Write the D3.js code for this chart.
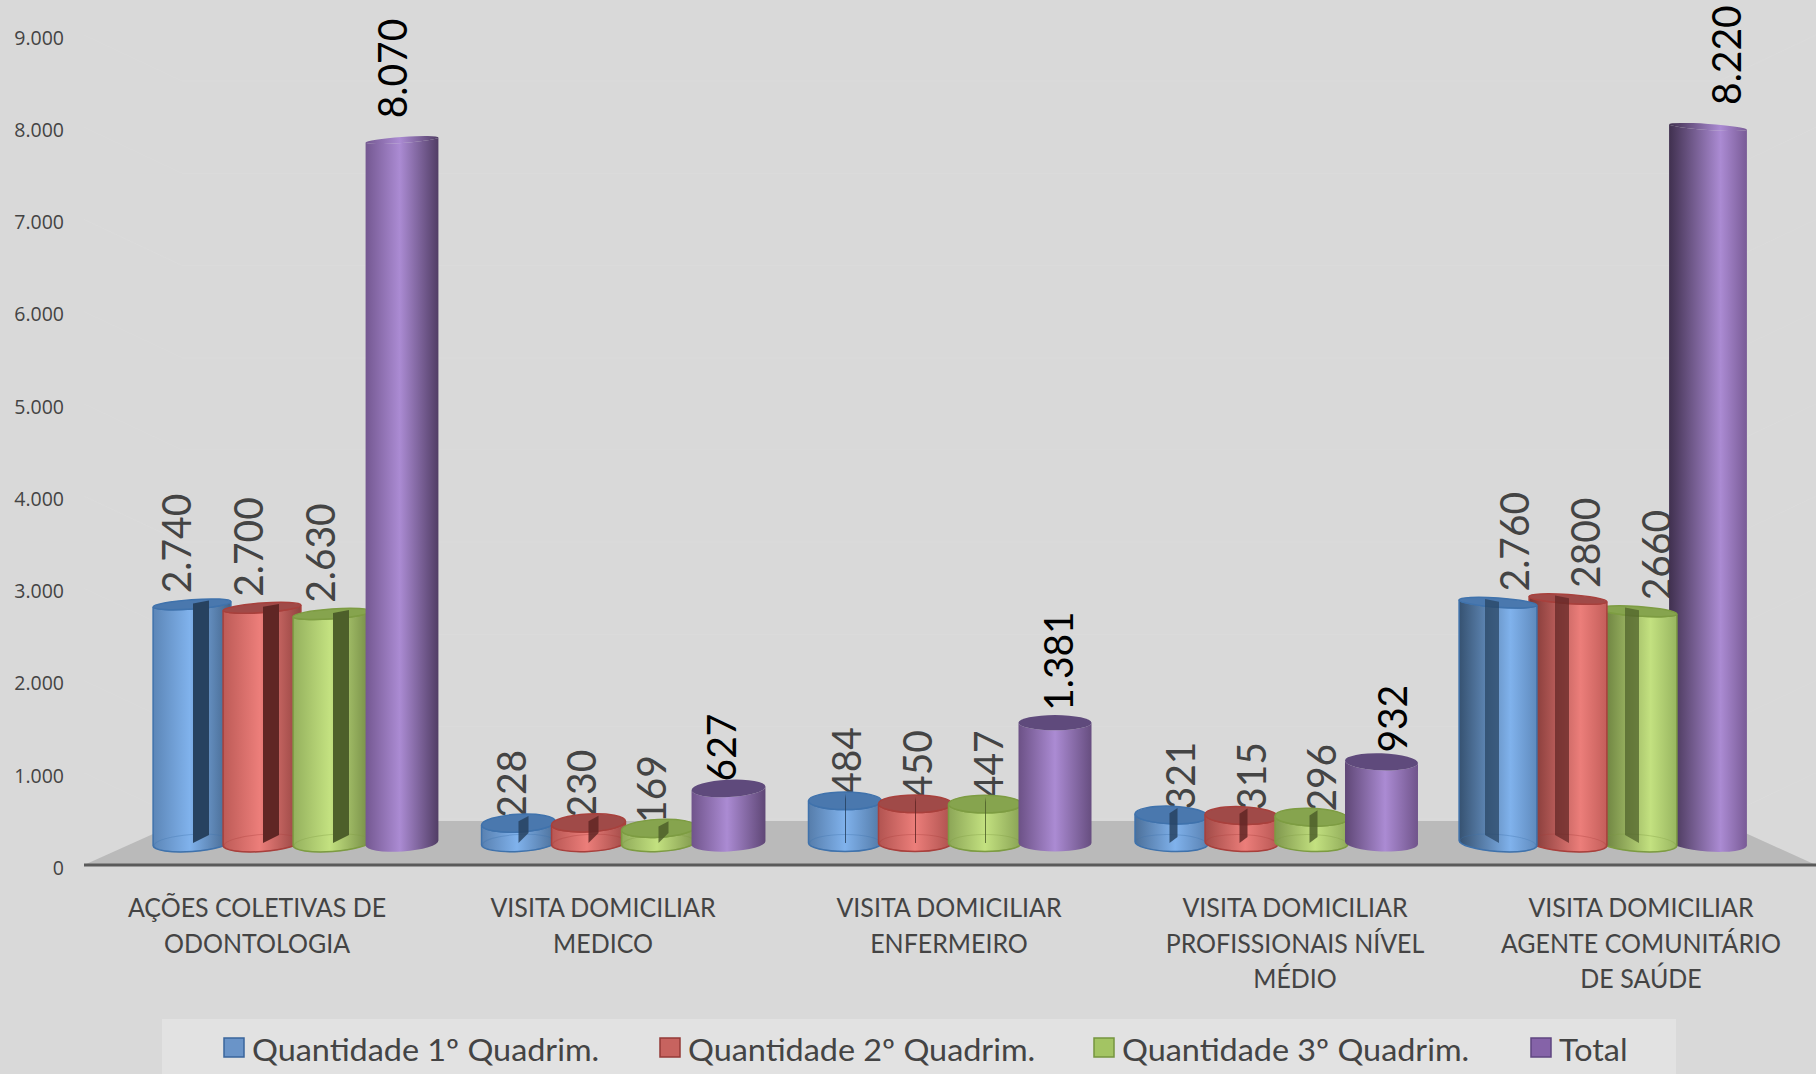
<!DOCTYPE html>
<html><head><meta charset="utf-8">
<script src="https://cdn.jsdelivr.net/npm/d3@7/dist/d3.min.js"></script>
<style>html,body{margin:0;padding:0;background:#d9d9d9;overflow:hidden}svg{display:block}</style>
</head><body><svg id="c" width="1816" height="1074"></svg>
<script>
const categories = [["AÇÕES COLETIVAS DE","ODONTOLOGIA"],["VISITA DOMICILIAR","MEDICO"],["VISITA DOMICILIAR","ENFERMEIRO"],["VISITA DOMICILIAR","PROFISSIONAIS NÍVEL","MÉDIO"],["VISITA DOMICILIAR","AGENTE COMUNITÁRIO","DE SAÚDE"]];
const seriesNames = ["Quantidade 1º Quadrim.","Quantidade 2º Quadrim.","Quantidade 3º Quadrim.","Total"];
const q1 = [2740,228,484,321,2760];
const q2 = [2700,230,450,315,2800];
const q3 = [2630,169,447,296,2660];
const total = [8070,627,1381,932,8220];
const q1Labels = ["2.740","228","484","321","2.760"];
const q2Labels = ["2.700","230","450","315","2800"];
const q3Labels = ["2.630","169","447","296","2660"];
const totalLabels = ["8.070","627","1.381","932","8.220"];
const tickValues = [0,1000,2000,3000,4000,5000,6000,7000,8000,9000];
const tickLabels = ["0","1.000","2.000","3.000","4.000","5.000","6.000","7.000","8.000","9.000"];

const values=[q1,q2,q3,total], labels=[q1Labels,q2Labels,q3Labels,totalLabels];
const palette=[
 {mid:"#6c9bd4",light:"#80b2ec",dark:"#2c4560",edge:"#3f72ac",top:"#4a78ae",strip:"#274260"},
 {mid:"#d96a66",light:"#ec7e7a",dark:"#6a2c2a",edge:"#a8403c",top:"#a04a48",strip:"#602624"},
 {mid:"#a9c86c",light:"#c3e180",dark:"#56682f",edge:"#7d9c42",top:"#86a44e",strip:"#4d5f2a"},
 {mid:"#8a68ac",light:"#ab8bd3",dark:"#33263f",edge:"#7a5a9c",top:"#5f4a7c",strip:"#5f4a7c"}];
const swatch=[["#6a94c8","#3a659c"],["#c7635f","#943a37"],["#a3c463","#76953f"],["#8563a8","#5f4680"]];

// perspective per group
const tilt=[-4,-3,0,2,4];
const leftDark=[.25,.3,.35,.5,.85], rightDark=[.65,.5,.4,.3,.2], peak=[.47,.48,.5,.55,.66];
const strips=[[1,17,8],[0,10,10],[0,1,0],[-2,6,6],[-13,1,-8]];
const labelDx=[-15,-7,2,9,17];
const labelSkew=[2,0,.7,.7,.7];
const radii=[39,37,36.5,36.5,39];

const svg=d3.select("#c");
const W=1816;
const y=d3.scaleLinear().domain([0,9000]).range([868,38]);
const barY=d3.scaleLinear().domain([0,9000]).range([843,59]);
const group=d3.scalePoint().domain(d3.range(5)).range([296,1602]);
const inner=d3.scalePoint().domain(d3.range(4)).range([-104,106]);
const catX=d3.scalePoint().domain(d3.range(5)).range([257,1641]);
const ryScale=d3.scaleLinear().domain([0,1000,2800,8300]).range([9,8.5,4.5,3]);
const gapScale=d3.scaleLinear().domain([0,500,900,1400,2700,8200]).range([5,6,9,12,11,22]);
const BASE_RY=8.5;

svg.append("rect").attr("width",W).attr("height",1074).attr("fill","#d9d9d9");

// faint wall grid
const gridG=svg.append("g").attr("fill","none").attr("stroke","#dbdbdb").attr("stroke-width",1);
tickValues.slice(1).forEach(t=>{
  gridG.append("path").attr("d",d3.line()([[84,y(t)-3],[182,y(t)+43],[1719,y(t)+43],[1816,y(t)-3]]));
});

// floor
const fy0=821,fy1=865;
svg.append("path").attr("d",d3.line()([[84,fy1],[182,fy0],[1719,fy0],[1816,fy1]])+"Z").attr("fill","#bababa");
svg.append("line").attr("x1",84).attr("x2",W).attr("y1",fy1).attr("y2",fy1).attr("stroke","#5a5a5a").attr("stroke-width",3);

// y axis
const axisG=svg.append("g").attr("transform","translate(64,0)")
 .call(d3.axisLeft(y).tickValues(tickValues).tickSize(0).tickPadding(0).tickFormat((d,i)=>tickLabels[i]));
axisG.select(".domain").remove();
axisG.selectAll("text").attr("font-family","'Open Sans'").attr("font-size",19.5).attr("fill","#444");

// gradients
const defs=svg.append("defs");
values.forEach((vals,s)=>vals.forEach((v,g)=>{
  const p=palette[s],grad=defs.append("linearGradient").attr("id",`g${s}-${g}`);
  const mix=d3.interpolateRgb(p.mid,p.dark);
  grad.append("stop").attr("offset",0).attr("stop-color",mix(leftDark[g]));
  grad.append("stop").attr("offset",peak[g]).attr("stop-color",p.light);
  grad.append("stop").attr("offset",1).attr("stop-color",mix(rightDark[g]));
}));

// data labels (behind the bars)
const labG=svg.append("g");
values.forEach((vals,s)=>vals.forEach((v,g)=>{
  const cx=group(g)+inner(s)+labelDx[g]+labelSkew[g]*s, yy=barY(v)-gapScale(v);
  labG.append("text").attr("transform",`translate(${cx},${yy}) rotate(-90) scale(.95,1)`)
   .attr("dy","0.35em").attr("font-family","Lato").attr("font-size",41)
   .attr("fill",s===3?"#000":"#444").text(labels[s][g]);
}));

// cylinders
const barG=svg.append("g");
d3.range(5).forEach(g=>{
  const order=g===4?[3,2,1,0]:[0,1,2,3];
  order.forEach(s=>{
  const v=values[s][g],p=palette[s],cx=group(g)+inner(s),top=barY(v),bot=barY(0);
  const RX=(s===3&&g===0)?36.5:radii[g];
  const ry=ryScale(v),a=tilt[g]*Math.PI/180,rot=tilt[g];
  const dx=RX*Math.cos(a),dy=RX*Math.sin(a);
  const gEl=barG.append("g");
  const stroke=s===3?"none":p.edge;
  // body
  gEl.append("path").attr("d",
    `M${cx-dx},${top-dy}L${cx-dx},${bot-dy}A${RX},${BASE_RY} ${rot} 0 0 ${cx+dx},${bot+dy}L${cx+dx},${top+dy}A${RX},${ry} ${rot} 0 1 ${cx-dx},${top-dy}Z`)
   .attr("fill",`url(#g${s}-${g})`).attr("stroke",stroke).attr("stroke-width",1.5);
  // inner base rim
  if(s<3) gEl.append("ellipse").attr("cx",cx).attr("cy",bot).attr("rx",RX-1).attr("ry",BASE_RY)
    .attr("transform",`rotate(${rot} ${cx} ${bot})`).attr("fill","none").attr("stroke",p.edge).attr("stroke-opacity",.35);
  // top
  const flat=v>=5000;
  gEl.append("ellipse").attr("cx",cx).attr("cy",top).attr("rx",RX).attr("ry",ry)
   .attr("transform",`rotate(${rot} ${cx} ${top})`)
   .attr("fill",flat?`url(#g${s}-${g})`:p.top).attr("stroke",stroke).attr("stroke-width",1.5);
  // dividing strip, seen through the cap
  if(s<3){
    const [a0,a1,sk]=strips[g];
    const topL=sk>=0?top-ry*.2:top-ry*.8, topR=sk>=0?top-ry*.8:top-ry*.2;
    const botL=bot-Math.max(0,-sk), botR=bot-Math.max(0,sk);
    gEl.append("path").attr("d",d3.line()([[cx+a0,topL],[cx+a0,botL],[cx+a1,botR],[cx+a1,topR]])+"Z")
      .attr("fill",p.strip).attr("fill-opacity",g===4?.72:g===0?1:.85);
  }
  });
});

// category labels
const catG=svg.append("g").attr("font-family","Lato").attr("font-size",27).attr("fill","#444").attr("text-anchor","middle");
categories.forEach((lines,g)=>lines.forEach((t,i)=>{
  catG.append("text").attr("transform",`translate(${catX(g)},${917+i*35.5}) scale(.925,1)`).text(t);
}));

// legend
svg.append("rect").attr("x",162).attr("y",1019).attr("width",1514).attr("height",55).attr("fill","#e2e2e2");
const legendX=d3.scaleOrdinal().domain(d3.range(4)).range([223,659,1093,1530]);
seriesNames.forEach((n,i)=>{
  svg.append("rect").attr("x",legendX(i)+1).attr("y",1038).attr("width",20).attr("height",19)
    .attr("fill",swatch[i][0]).attr("stroke",swatch[i][1]).attr("stroke-width",1.5);
  svg.append("text").attr("transform",`translate(${legendX(i)+29},1061) scale(1.045,1)`).attr("font-family","Lato").attr("font-size",31)
    .attr("fill","#444").text(n);
});
</script></body></html>
